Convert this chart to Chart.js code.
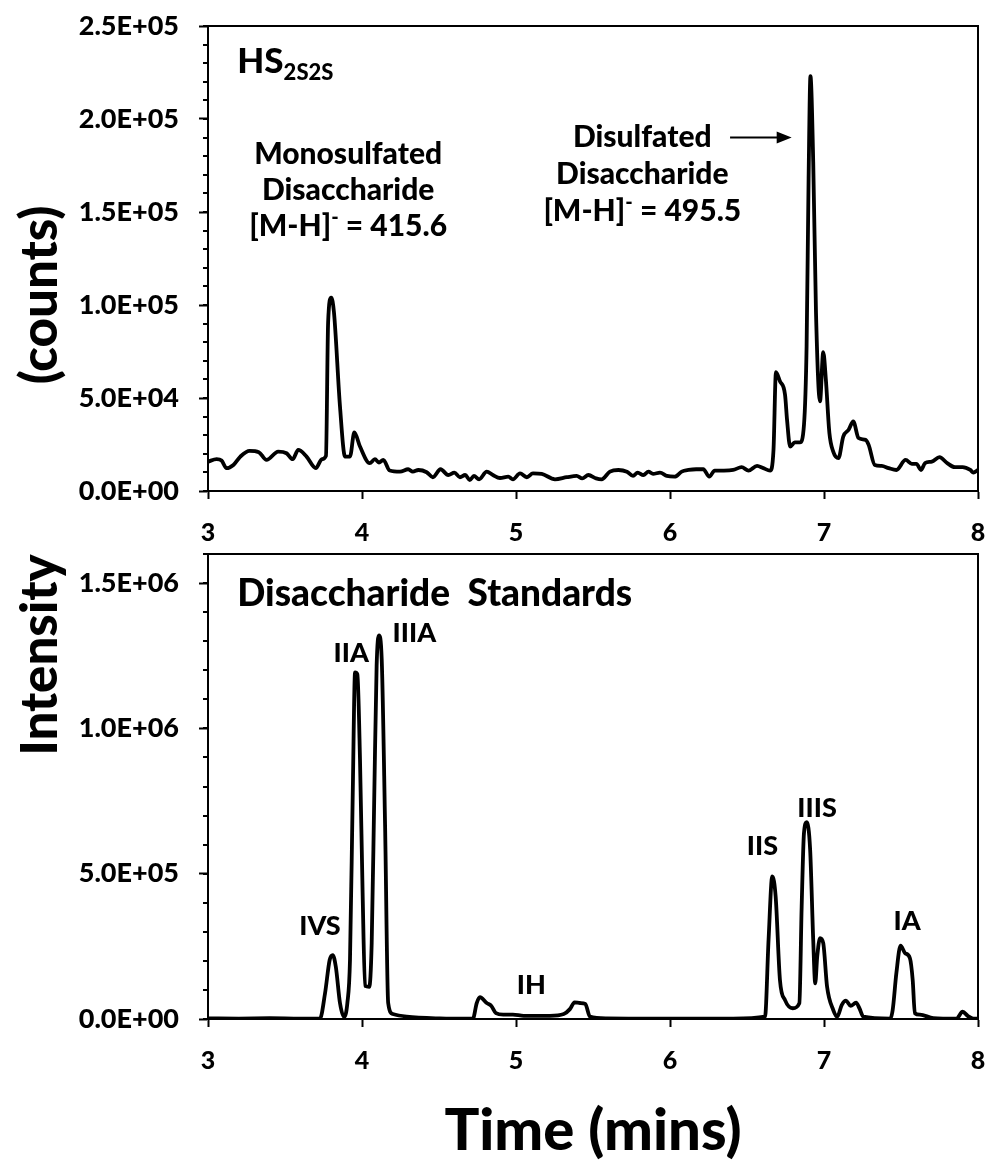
<!DOCTYPE html>
<html>
<head>
<meta charset="utf-8">
<script src="https://cdn.jsdelivr.net/npm/chart.js@4/dist/chart.umd.min.js"></script>
<style>
  html, body { margin: 0; padding: 0; background: #fff; }
  #wrap { position: relative; width: 990px; height: 1166px; overflow: hidden; }
  canvas { position: absolute; left: 0; }
  #cTop { top: 0; }
  #cBot { top: 550px; }
  .ytitle {
    position: absolute; width: 300px; height: 64px; line-height: 64px;
    text-align: center; font: 900 51px Lato, sans-serif; color: #000;
    transform: rotate(-90deg); transform-origin: 50% 50%;
  }
</style>
</head>
<body>
<div id="wrap">
  <canvas id="cTop" width="990" height="550"></canvas>
  <canvas id="cBot" width="990" height="616"></canvas>
  <div class="ytitle" style="left:-111px; top:623px;">Intensity</div>
  <div class="ytitle" style="left:-111px; top:263px;">(counts)</div>
</div>
<script>
// HS 2S2S digest, extracted ion chromatogram (time in min, intensity in counts)
const hsTime = [3.0, 3.056, 3.088, 3.12, 3.165, 3.21, 3.27, 3.33, 3.38, 3.456, 3.51, 3.55, 3.586, 3.64, 3.70, 3.74, 3.766,
  3.78, 3.80, 3.818, 3.857, 3.89, 3.922, 3.95, 3.987, 4.05, 4.084, 4.11, 4.138, 4.18, 4.247, 4.30, 4.33, 4.366, 4.42,
  4.46, 4.51, 4.56, 4.60, 4.636, 4.67, 4.70, 4.727, 4.76, 4.81, 4.85, 4.896, 4.95, 4.98, 5.026, 5.07, 5.11, 5.167,
  5.253, 5.33, 5.394, 5.43, 5.47, 5.52, 5.556, 5.61, 5.665, 5.72, 5.76, 5.79, 5.827, 5.86, 5.89, 5.935, 5.98, 6.03,
  6.076, 6.12, 6.17, 6.216, 6.255, 6.29, 6.35, 6.41, 6.465, 6.51, 6.565, 6.606, 6.65, 6.672, 6.688, 6.714, 6.747, 6.76,
  6.78, 6.81, 6.844, 6.87, 6.887, 6.90, 6.912, 6.93, 6.948, 6.974, 6.995, 7.012, 7.035, 7.06, 7.094, 7.125, 7.16,
  7.19, 7.224, 7.27, 7.29, 7.33, 7.375, 7.42, 7.47, 7.53, 7.57, 7.60, 7.63, 7.656, 7.70, 7.75, 7.80, 7.85, 7.90,
  7.95, 7.97, 8.0];
const hsCounts = [15800, 17100, 16400, 12300, 14000, 18500, 21600, 20900, 16700, 21200, 20300, 17100, 22100, 18500, 12300, 17100, 18900,
  90700, 104000, 96000, 45500, 18500, 18500, 31500, 23900, 15000, 17100, 15300, 16700, 11000, 10400, 11700, 10400, 11300, 10100,
  7400, 11700, 8600, 9900, 7400, 8600, 5900, 8100, 6300, 10400, 8600, 7000, 7700, 6300, 9500, 7400, 9500, 9200,
  6300, 7400, 8100, 6800, 8600, 6800, 6300, 10400, 11300, 10400, 8100, 9900, 8600, 10400, 9200, 9900, 8100, 7700,
  10400, 11300, 11700, 11700, 7700, 11000, 11000, 11300, 12800, 11000, 13500, 12300, 11000, 22000, 63900, 59000, 51800, 38300,
  23900, 26100, 26100, 35600, 77900, 168000, 223000, 177000, 96000, 48200, 74700, 60000, 31200, 21200, 17700, 29300, 32900,
  37400, 28500, 27500, 24800, 14000, 13500, 12300, 11300, 16700, 14600, 14600, 11300, 15000, 15800, 18200, 15000, 12800, 12800,
  11300, 9900, 11300];

// Disaccharide standards mix chromatogram
const stdTime = [3.0, 3.2, 3.4, 3.6, 3.727, 3.76, 3.79, 3.81, 3.83, 3.857, 3.883, 3.905, 3.922, 3.94, 3.955, 3.97, 3.987,
  4.004, 4.02, 4.047, 4.063, 4.08, 4.095, 4.11, 4.128, 4.15, 4.17, 4.20, 4.29, 4.506, 4.72, 4.745, 4.766, 4.81, 4.84,
  4.87, 4.917, 4.98, 5.05, 5.22, 5.31, 5.35, 5.38, 5.416, 5.45, 5.48, 5.59, 5.8, 6.13, 6.41, 6.617, 6.64, 6.664, 6.686,
  6.714, 6.747, 6.797, 6.84, 6.855, 6.87, 6.888, 6.91, 6.93, 6.943, 6.956, 6.974, 6.995, 7.02, 7.06, 7.086, 7.115,
  7.143, 7.173, 7.208, 7.23, 7.255, 7.43, 7.446, 7.47, 7.497, 7.526, 7.558, 7.576, 7.59, 7.623, 7.71, 7.86, 7.90,
  7.935, 7.97, 8.0];
const stdCounts = [2000, 1500, 2500, 1000, 1500, 88600, 203000, 220000, 180000, 55000, 7000, 55000, 203000, 779000, 1193000, 1186000, 893000,
  434000, 114000, 111000, 262000, 779000, 1215000, 1320000, 1238000, 663000, 55000, 17000, 8000, 2000, 1000, 55000, 75000, 55000, 45000,
  20000, 15000, 15000, 11000, 11000, 17000, 34000, 57000, 55000, 52000, 8000, 2000, 1500, 1000, 1500, 8000, 272000, 491000, 422000,
  134000, 65000, 37000, 54000, 387000, 640000, 677000, 583000, 272000, 123000, 215000, 278000, 261000, 111000, 31000, 8000, 48000,
  63000, 45000, 56000, 37000, 8000, 1000, 31000, 158000, 252000, 227000, 209000, 134000, 20000, 15000, 3000, 1000, 25000,
  10000, 1000, 1000];

// Axis ticks
const timeTicks = [3, 4, 5, 6, 7, 8];
const hsMajorTicks = [0, 50000, 100000, 150000, 200000, 250000];
const stdMajorTicks = [0, 500000, 1000000, 1500000];

const FONT = 'Lato, "Open Sans", sans-serif';
const W = '900';

function sciLabel(v) {
  if (v === 0) return '0.0E+00';
  const e = Math.floor(Math.log10(v) + 1e-9);
  const m = v / Math.pow(10, e);
  return m.toFixed(1) + 'E+' + String(e).padStart(2, '0');
}

// frame on top/right plus short minor ticks on the y axis
const framePlugin = {
  id: 'frame',
  afterDraw(chart, args, opts) {
    const { ctx, chartArea: a } = chart;
    const y = chart.scales.y;
    ctx.save();
    ctx.strokeStyle = '#000';
    ctx.lineWidth = 2;
    ctx.beginPath();
    ctx.moveTo(a.left, a.top); ctx.lineTo(a.right, a.top); ctx.lineTo(a.right, a.bottom);
    ctx.stroke();
    ctx.beginPath();
    for (let v = y.min; v <= y.max + 1e-6; v += opts.minorStep) {
      const p = Math.round(y.getPixelForValue(v));
      ctx.moveTo(a.left - 5, p); ctx.lineTo(a.left, p);
    }
    ctx.stroke();
    ctx.restore();
  }
};

// rich text: array of segments {t, size, dy}
function drawRich(ctx, segs, cx, baseY, align) {
  let total = 0;
  segs.forEach(s => { ctx.font = W + ' ' + s.size + 'px ' + FONT; s.w = ctx.measureText(s.t).width; total += s.w; });
  let x = align === 'left' ? cx : cx - total / 2;
  segs.forEach(s => {
    ctx.font = W + ' ' + s.size + 'px ' + FONT;
    ctx.textAlign = 'left';
    ctx.textBaseline = 'alphabetic';
    ctx.fillText(s.t, x, baseY + (s.dy || 0));
    x += s.w;
  });
}

const notePlugin = {
  id: 'notes',
  afterDraw(chart, args, opts) {
    const { ctx } = chart;
    const xs = chart.scales.x, ys = chart.scales.y;
    ctx.save();
    ctx.fillStyle = '#000';
    (opts.items || []).forEach(it => {
      const px = xs.getPixelForValue(it.x);
      const py = ys.getPixelForValue(it.y);
      it.lines.forEach((segs, i) => drawRich(ctx, segs, px, py + i * (it.lh || 0), it.align));
    });
    (opts.arrows || []).forEach(ar => {
      const x1 = xs.getPixelForValue(ar.x1), x2 = xs.getPixelForValue(ar.x2);
      const py = ys.getPixelForValue(ar.y);
      ctx.strokeStyle = '#000'; ctx.lineWidth = 2;
      ctx.beginPath(); ctx.moveTo(x1, py); ctx.lineTo(x2 - 12, py); ctx.stroke();
      ctx.beginPath(); ctx.moveTo(x2, py); ctx.lineTo(x2 - 15, py - 6); ctx.lineTo(x2 - 15, py + 6); ctx.closePath(); ctx.fill();
    });
    ctx.restore();
  }
};

function baseScales(yMax, majors, xHeight, xTitle) {
  return {
    x: {
      type: 'linear', min: 3, max: 8,
      afterBuildTicks: s => { s.ticks = timeTicks.map(v => ({ value: v })); },
      ticks: { color: '#000', font: { family: FONT, weight: W, size: 25 }, padding: 19, maxRotation: 0 },
      grid: { drawOnChartArea: false, tickLength: 8, tickWidth: 2, tickColor: '#000' },
      border: { color: '#000', width: 2 },
      title: xTitle ? { display: true, text: xTitle, color: '#000', font: { family: FONT, weight: W, size: 58 }, padding: { top: 0, bottom: 0 } } : { display: false },
      afterFit: s => { s.height = xHeight; s.paddingLeft = 0; s.paddingRight = 0; }
    },
    y: {
      min: 0, max: yMax,
      afterBuildTicks: s => { s.ticks = majors.map(v => ({ value: v })); },
      ticks: { color: '#000', font: { family: FONT, weight: W, size: 27 }, padding: 20, callback: v => sciLabel(v) },
      grid: { drawOnChartArea: false, tickLength: 9, tickWidth: 2, tickColor: '#000' },
      border: { color: '#000', width: 2 },
      afterFit: s => { s.width = 208; s.paddingTop = 0; s.paddingBottom = 0; }
    }
  };
}

function lineDataset(times, values) {
  return {
    data: times.map((t, i) => ({ x: t, y: values[i] })),
    borderColor: '#000', borderWidth: 3.8, pointRadius: 0,
    cubicInterpolationMode: 'monotone', fill: false
  };
}

const L = (t, size) => ({ t, size });
const SUP = (t, size) => ({ t, size, dy: -12 });

function start() {
  new Chart(document.getElementById('cTop'), {
    type: 'line',
    data: { datasets: [lineDataset(hsTime, hsCounts)] },
    options: {
      responsive: false, animation: false, devicePixelRatio: 1,
      layout: { padding: { left: 0, right: 12, top: 26, bottom: 0 } },
      plugins: {
        legend: { display: false }, tooltip: { enabled: false },
        frame: { minorStep: 10000 },
        notes: {
          items: [
            { x: 3.19, y: 224600, align: 'left', lines: [[L('HS', 35), { t: '2S2S', size: 22, dy: 7 }]] },
            { x: 3.91, y: 176000, lh: 36, lines: [
              [L('Monosulfated', 30)], [L('Disaccharide', 30)],
              [L('[M-H]', 30), SUP('-', 20), L(' = 415.6', 30)] ] },
            { x: 5.82, y: 185000, lh: 37, lines: [
              [L('Disulfated', 30)], [L('Disaccharide', 30)],
              [L('[M-H]', 30), SUP('-', 20), L(' = 495.5', 30)] ] }
          ],
          arrows: [{ x1: 6.39, x2: 6.79, y: 190000 }]
        }
      },
      scales: baseScales(250000, hsMajorTicks, 59, null)
    },
    plugins: [framePlugin, notePlugin]
  });

  new Chart(document.getElementById('cBot'), {
    type: 'line',
    data: { datasets: [lineDataset(stdTime, stdCounts)] },
    options: {
      responsive: false, animation: false, devicePixelRatio: 1,
      layout: { padding: { left: 0, right: 12, top: 4, bottom: 0 } },
      plugins: {
        legend: { display: false }, tooltip: { enabled: false },
        frame: { minorStep: 100000 },
        notes: {
          items: [
            { x: 3.19, y: 1420000, align: 'left', lines: [[L('Disaccharide  Standards', 37)]] },
            { x: 3.727, y: 289600, lines: [[L('IVS', 27)]] },
            { x: 3.93, y: 1227500, lines: [[L('IIA', 27)]] },
            { x: 4.34, y: 1296400, lines: [[L('IIIA', 27)]] },
            { x: 5.10, y: 86200, lines: [[L('IH', 27)]] },
            { x: 6.60, y: 565500, lines: [[L('IIS', 27)]] },
            { x: 6.955, y: 696500, lines: [[L('IIIS', 27)]] },
            { x: 7.54, y: 306900, lines: [[L('IA', 27)]] }
          ]
        }
      },
      scales: baseScales(1600000, stdMajorTicks, 147, 'Time (mins)')
    },
    plugins: [framePlugin, notePlugin]
  });
}

if (document.fonts && document.fonts.load) {
  Promise.all([document.fonts.load('900 24px Lato'), document.fonts.load('bold 24px Lato')]).then(start, start);
} else { start(); }
</script>
</body>
</html>
